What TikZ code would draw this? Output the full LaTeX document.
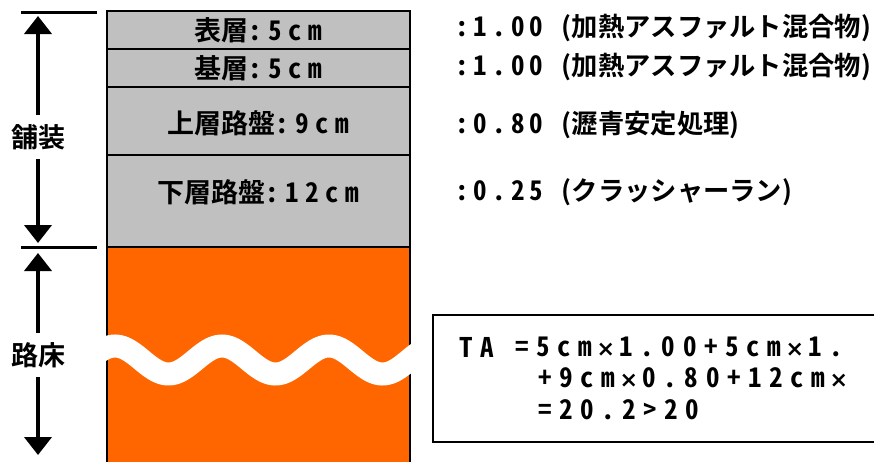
\documentclass[tikz,border=0pt]{standalone}
\usepackage{fontspec}
\usetikzlibrary{arrows.meta}
\newfontfamily\jp{Noto Sans CJK JP Bold}
\newfontfamily\hw{Noto Sans CJK JP Bold}[RawFeature=+hwid,LetterSpace=24]
\newfontfamily\hwf{Noto Sans CJK JP Bold}[RawFeature=+hwid,LetterSpace=28]
\newfontfamily\hwn{Noto Sans CJK JP Bold}[RawFeature=+hwid,LetterSpace=19]
\newfontfamily\xf{DejaVu Sans Bold}
\newcommand\tm{\kern7pt\makebox[14pt][c]{\fontsize{22}{30}\xf ×}\kern7pt}
\definecolor{layergray}{HTML}{C0C0C0}
\definecolor{subgrade}{HTML}{FF6600}
\begin{document}
\begin{tikzpicture}[x=1pt,y=-1pt,
  txt/.style={inner sep=0pt,font=\jp\fontsize{27}{30}\selectfont},
  coef/.style={inner sep=0pt,anchor=west,font=\jp\fontsize{26.3}{30}\selectfont},
  dimlabel/.style={txt,inner ysep=9pt},
  layer/.style={draw=black,line width=1.5pt,fill=layergray},
  edge/.style={draw=black,line width=1.5pt},
  dimline/.style={line width=3pt},
  dimarrow/.style={line width=4pt,-{Triangle[width=27pt,length=18pt]}},
  wave/.style={white,line width=23pt},
  boxline/.style={line width=2pt},
]
\clip (0,0) rectangle (874,461);
\fill[white] (0,0) rectangle (874,461);
% subgrade
\fill[subgrade] (107,247) rectangle (410,470);
\draw[edge] (107,247) -- (107,470) (410,247) -- (410,470);
\begin{scope}
  \clip (106,310) rectangle (411,410);
  \draw[wave] plot[domain=90:430,samples=150,smooth] (\x,{360-14*cos(3.3645*(\x-115))});
\end{scope}
% pavement layers
\draw[layer] (107,11) rectangle (410,49);
\draw[layer] (107,49) rectangle (410,87);
\draw[layer] (107,87) rectangle (410,155);
\draw[layer] (107,155) rectangle (410,247);
\node[txt] (l1) at (258,30) {表層{\hw:5cm}};
\node[txt] (l2) at (258,68) {基層{\hw:5cm}};
\node[txt] (l3) at (258,123) {上層路盤{\hw:9cm}};
\node[txt] (l4) at (258,192) {下層路盤{\hw:12cm}};
% coefficients
\node[coef] (c1) at (455,28) {{\fontsize{27}{30}\hwn:1.00 }(加熱アスファルト混合物)};
\node[coef] (c2) at (455,67) {{\fontsize{27}{30}\hwn:1.00 }(加熱アスファルト混合物)};
\node[coef] (c3) at (455,125) {{\fontsize{27}{30}\hwn:0.80 }(瀝青安定処理)};
\node[coef] (c4) at (455,192) {{\fontsize{27}{30}\hwn:0.25 }(クラッシャーラン)};
% dimension arrows
\draw[dimline] (21,12) -- (97,12);
\draw[dimline] (21,247) -- (97,247);
\coordinate (p1) at (38,16);
\coordinate (p2) at (38,243);
\coordinate (s1) at (38,253);
\coordinate (s2) at (38,455);
\node[dimlabel] (pave) at (38,137) {舗装};
\node[dimlabel] (sub) at (38,355) {路床};
\draw[dimarrow] (pave) -- (p1);
\draw[dimarrow] (pave) -- (p2);
\draw[dimarrow] (sub) -- (s1);
\draw[dimarrow] (sub) -- (s2);
% formula box
\draw[boxline] (433,315) rectangle (900,442);
\node[txt,anchor=west] (ta) at (459,347) {\hwf TA};
\node[txt,anchor=west] (eq1) at (515,347) {\hwf =5cm\tm 1.00+5cm\tm 1.};
\node[txt,anchor=west] (eq2) at (538,378) {\hwf +9cm\tm 0.80+12cm\tm};
\node[txt,anchor=west] (eq3) at (538,410) {\hwf =20.2>20};
\end{tikzpicture}
\end{document}
